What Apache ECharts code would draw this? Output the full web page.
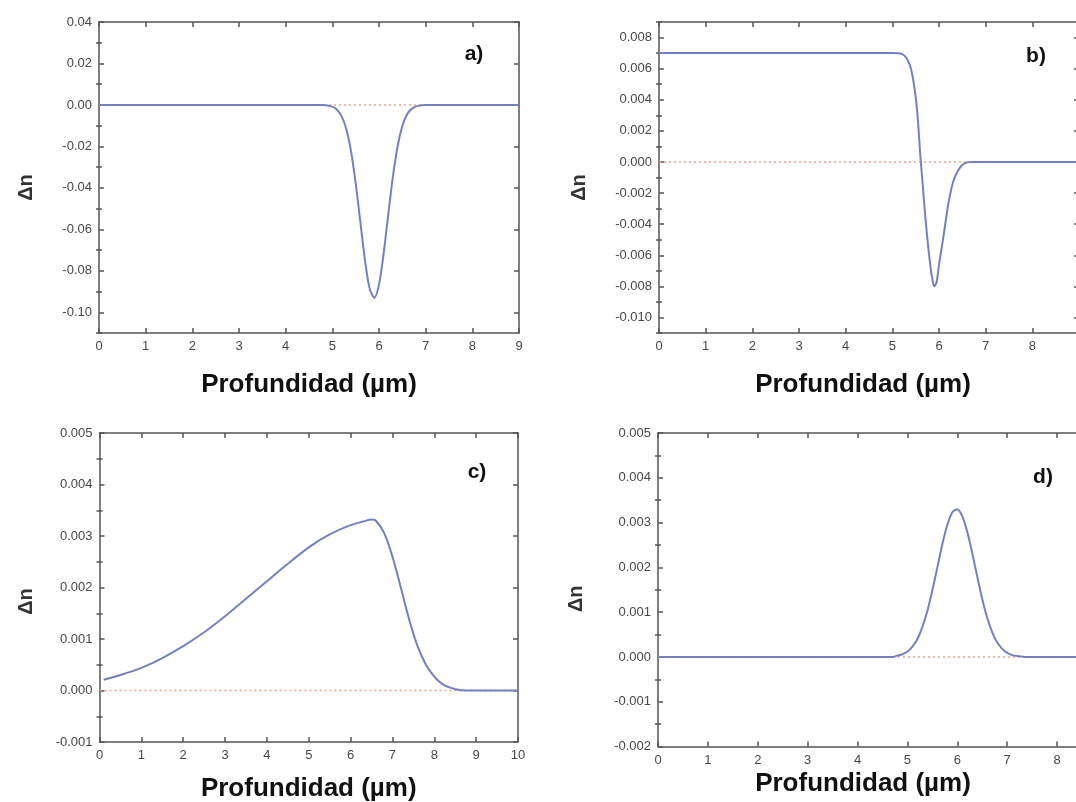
<!DOCTYPE html>
<html>
<head>
<meta charset="utf-8">
<script src="https://cdn.jsdelivr.net/npm/echarts@6/dist/echarts.min.js"></script>
<style>
  html, body { margin: 0; padding: 0; background: #ffffff; overflow: hidden; width: 1076px; height: 802px; }
  #chart { width: 1130px; height: 802px; }
</style>
</head>
<body>
<div id="chart"></div>
<script>
// ---------- data ----------
const panelLabels = ['a)', 'b)', 'c)', 'd)'];
const xAxisTitle = 'Profundidad (µm)';
const yAxisTitle = 'Δn';

// panel a
const xA = [0, 4.8, 5.0, 5.1, 5.2, 5.3, 5.4, 5.5, 5.6, 5.7, 5.8, 5.9, 6.0, 6.1, 6.2, 6.3, 6.4, 6.5, 6.6, 6.7, 6.8, 7.0, 9];
const yA = [0, 0, -0.0008, -0.0023, -0.0055, -0.0117, -0.0223, -0.0377, -0.0564, -0.0750, -0.0886, -0.0930, -0.0866, -0.0715, -0.0525, -0.0342, -0.0198, -0.0102, -0.0046, -0.0019, -0.0007, 0, 0];
const yTicksA = [-0.10, -0.08, -0.06, -0.04, -0.02, 0.00, 0.02, 0.04];
const yRangeA = [-0.11, 0.04];
const xRangeA = [0, 9];

// panel b
const xB = [0, 4.8, 5.0, 5.1, 5.2, 5.3, 5.4, 5.5, 5.55, 5.6, 5.65, 5.7, 5.75, 5.8, 5.85, 5.9, 5.95, 6.0, 6.1, 6.2, 6.3, 6.4, 6.5, 6.6, 6.7, 9];
const yB = [0.0070, 0.0070, 0.0070, 0.00699, 0.00695, 0.0067, 0.0060, 0.0042, 0.0026, 0.0004, -0.0014, -0.0033, -0.0049, -0.0063, -0.0074, -0.0080, -0.0077, -0.0066, -0.0047, -0.0027, -0.0013, -0.0006, -0.0002, -0.00003, 0, 0];
const yTicksB = [-0.010, -0.008, -0.006, -0.004, -0.002, 0.000, 0.002, 0.004, 0.006, 0.008];
const yRangeB = [-0.011, 0.009];
const xRangeB = [0, 9];

// panel c
const xC = [0.1, 0.5, 1.0, 1.5, 2.0, 2.5, 3.0, 3.5, 4.0, 4.5, 5.0, 5.5, 6.0, 6.3, 6.5, 6.6, 6.8, 7.0, 7.2, 7.4, 7.6, 7.8, 8.0, 8.2, 8.4, 8.6, 9.0, 10];
const yC = [0.00021, 0.00030, 0.00044, 0.00063, 0.00086, 0.00113, 0.00144, 0.00178, 0.00212, 0.00246, 0.00278, 0.00303, 0.00321, 0.00328, 0.00332, 0.00330, 0.00306, 0.00260, 0.00200, 0.00138, 0.00086, 0.00050, 0.00027, 0.00012, 0.00005, 0.00001, 0, 0];
const yTicksC = [-0.001, 0.000, 0.001, 0.002, 0.003, 0.004, 0.005];
const yRangeC = [-0.001, 0.005];
const xRangeC = [0, 10];

// panel d
const xD = [0, 4.7, 4.8, 4.9, 5.0, 5.1, 5.2, 5.3, 5.4, 5.5, 5.6, 5.7, 5.8, 5.9, 6.0, 6.1, 6.2, 6.3, 6.4, 6.5, 6.6, 6.7, 6.8, 6.9, 7.0, 7.1, 7.2, 7.4, 9];
const yD = [0, 0, 0.00003, 0.00006, 0.00012, 0.00023, 0.00040, 0.00067, 0.00103, 0.00149, 0.00200, 0.00252, 0.00295, 0.00323, 0.00330, 0.00314, 0.00279, 0.00231, 0.00179, 0.00129, 0.00087, 0.00055, 0.00032, 0.00018, 0.00009, 0.00004, 0.00002, 0, 0];
const yTicksD = [-0.002, -0.001, 0.000, 0.001, 0.002, 0.003, 0.004, 0.005];
const yRangeD = [-0.002, 0.005];
const xRangeD = [0, 9];

// ---------- layout / style ----------
const AXIS_COLOR = '#555555';
const LABEL_COLOR = '#474747';
const CURVE_COLOR = '#7580c2';
const ZERO_COLOR = '#f0a08a';
const FONT = '"Liberation Sans", Arial, sans-serif';

const panels = [
  { x: xA, y: yA, yTicks: yTicksA, yRange: yRangeA, xRange: xRangeA, dec: 2,
    grid: { left: 99, top: 22, width: 420, height: 311 },
    xGap: 39, xShift: 0, yGap: 63, yShift: 10, label: [474, 54] },
  { x: xB, y: yB, yTicks: yTicksB, yRange: yRangeB, xRange: xRangeB, dec: 3,
    grid: { left: 659, top: 22, width: 420, height: 311 },
    xGap: 39, xShift: -6, yGap: 70, yShift: 10, label: [1036, 56] },
  { x: xC, y: yC, yTicks: yTicksC, yRange: yRangeC, xRange: xRangeC, dec: 3,
    grid: { left: 99.5, top: 433, width: 418.5, height: 309 },
    xGap: 34, xShift: 0, yGap: 63, yShift: 14, label: [477, 472] },
  { x: xD, y: yD, yTicks: yTicksD, yRange: yRangeD, xRange: xRangeD, dec: 3,
    grid: { left: 658, top: 433, width: 449, height: 313.5 },
    xGap: 24, xShift: -19.5, yGap: 72, yShift: 9, label: [1043, 477] }
];

function minorTicks(major, range) {
  const step = major[1] - major[0];
  const out = [];
  const first = major[0] - step / 2;
  for (let i = 0; i <= major.length; i++) {
    const v = first + i * step;
    if (v >= range[0] - 1e-12 && v <= range[1] + 1e-12) out.push(+v.toFixed(6));
  }
  return out;
}

const grids = [], xAxes = [], yAxes = [], series = [], graphics = [];

panels.forEach((p, i) => {
  grids.push(Object.assign({ containLabel: false, outerBoundsMode: 'none' }, p.grid));
  const minor = minorTicks(p.yTicks, p.yRange);
  const lineStyle = { color: AXIS_COLOR, width: 1.5 };

  xAxes.push({
    type: 'value', gridIndex: i, position: 'bottom',
    min: p.xRange[0], max: p.xRange[1], interval: 1,
    axisLine: { show: true, onZero: false, lineStyle },
    axisTick: { show: true, inside: true, length: 5, lineStyle },
    axisLabel: { show: true, margin: 7, color: LABEL_COLOR, fontSize: 13, fontFamily: FONT },
    splitLine: { show: false },
    name: xAxisTitle, nameLocation: 'middle', nameGap: p.xGap,
    nameTextStyle: { fontSize: 26, fontWeight: 'bold', color: '#111', fontFamily: FONT,
      padding: p.xShift < 0 ? [0, -2 * p.xShift, 0, 0] : [0, 0, 0, 2 * p.xShift] }
  });
  xAxes.push({
    type: 'value', gridIndex: i, position: 'top',
    min: p.xRange[0], max: p.xRange[1], interval: 1,
    axisLine: { show: true, onZero: false, lineStyle },
    axisTick: { show: true, inside: true, length: 5, lineStyle },
    axisLabel: { show: false }, splitLine: { show: false }
  });

  const fmt = v => {
    const s = Number(v).toFixed(p.dec);
    return s.startsWith('-') && Math.abs(v) < 1e-12 ? s.slice(1) : s;
  };
  yAxes.push({
    type: 'value', gridIndex: i, position: 'left',
    min: p.yRange[0], max: p.yRange[1],
    axisLine: { show: true, onZero: false, lineStyle },
    axisTick: { show: true, inside: true, length: 5, lineStyle, customValues: p.yTicks },
    axisLabel: { show: true, margin: 7, color: LABEL_COLOR, fontSize: 13, fontFamily: FONT,
      customValues: p.yTicks, formatter: fmt },
    splitLine: { show: false },
    name: yAxisTitle, nameLocation: 'middle', nameGap: p.yGap,
    nameTextStyle: { fontSize: 20, fontWeight: 'bold', color: '#333', fontFamily: FONT,
      padding: [0, 2 * p.yShift, 0, 0] }
  });
  yAxes.push({
    type: 'value', gridIndex: i, position: 'left',
    min: p.yRange[0], max: p.yRange[1],
    axisLine: { show: false },
    axisTick: { show: true, inside: true, length: 3, lineStyle, customValues: minor },
    axisLabel: { show: false, customValues: minor }, splitLine: { show: false }
  });
  yAxes.push({
    type: 'value', gridIndex: i, position: 'right',
    min: p.yRange[0], max: p.yRange[1],
    axisLine: { show: true, onZero: false, lineStyle },
    axisTick: { show: true, inside: true, length: 5, lineStyle, customValues: p.yTicks },
    axisLabel: { show: false, customValues: p.yTicks }, splitLine: { show: false }
  });
  yAxes.push({
    type: 'value', gridIndex: i, position: 'right',
    min: p.yRange[0], max: p.yRange[1],
    axisLine: { show: false },
    axisTick: { show: true, inside: true, length: 3, lineStyle, customValues: minor },
    axisLabel: { show: false, customValues: minor }, splitLine: { show: false }
  });

  series.push({
    type: 'line', xAxisIndex: 2 * i, yAxisIndex: 4 * i, z: 1,
    data: [[p.xRange[0], 0], [p.xRange[1], 0]],
    showSymbol: false, silent: true,
    lineStyle: { color: ZERO_COLOR, width: 1.5, type: [2, 3] }
  });
  series.push({
    type: 'line', xAxisIndex: 2 * i, yAxisIndex: 4 * i, z: 2,
    data: p.x.map((xv, k) => [xv, p.y[k]]),
    showSymbol: false, smooth: 0.3, silent: true,
    lineStyle: { color: CURVE_COLOR, width: 2 }
  });

  graphics.push({
    type: 'text', x: p.label[0], y: p.label[1],
    style: { text: panelLabels[i], fill: '#111', font: 'bold 21px ' + FONT,
      textAlign: 'center', textVerticalAlign: 'middle' }
  });
});

const chart = echarts.init(document.getElementById('chart'), null, { renderer: 'canvas' });
chart.setOption({
  animation: false,
  backgroundColor: '#ffffff',
  grid: grids,
  xAxis: xAxes,
  yAxis: yAxes,
  series: series,
  graphic: graphics
});
</script>
</body>
</html>
